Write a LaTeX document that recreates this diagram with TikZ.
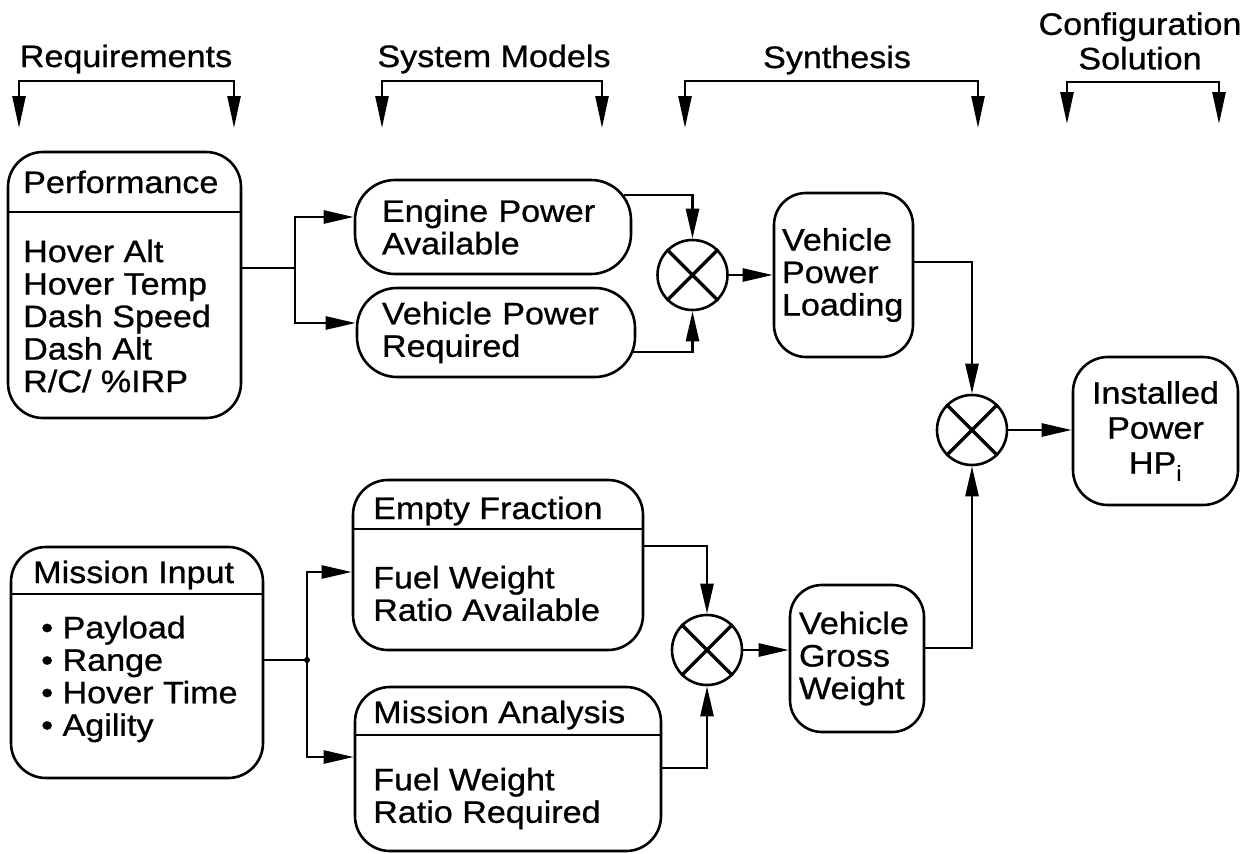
\documentclass[tikz,border=0pt]{standalone}
\usepackage{fontspec}
\setmainfont{Liberation Sans}[FakeStretch=1.1, FakeBold=0.8]
\usetikzlibrary{arrows.meta}

\begin{document}
\begin{tikzpicture}[x=1pt,y=-1pt,
  every node/.style={font=\fontsize{31}{32.5}\selectfont},
  box/.style={draw, line width=2.6pt, rounded corners=35pt, inner sep=0pt},
  txt/.style={inner sep=0pt, align=left},
  wire/.style={line width=2.6pt},
  feed/.style={line width=2.6pt, -{Triangle[length=30pt,width=13pt]}},
  pair/.style={line width=2.6pt, {Triangle[length=32pt,width=13pt]}-{Triangle[length=32pt,width=13pt]}},
  mult/.style={draw, circle, line width=2.6pt, minimum size=70pt, inner sep=0pt},
  cross/.style={line width=3.4pt}]
\useasboundingbox (0,0) rectangle (1256,854);
% column headings
\node[anchor=base] (req) at (126,67) {Requirements};
\node[anchor=base] (sysm) at (494,67) {System Models};
\node[anchor=base] (syn) at (837,68) {Synthesis};
\node[align=center, inner sep=0pt] (conf) at (1140,41) {Configuration\\[2pt]Solution};
\coordinate (reqL) at (19,128);   \coordinate (reqR) at (234,128);
\coordinate (sysmL) at (382,128); \coordinate (sysmR) at (602,128);
\coordinate (synL) at (685,128);  \coordinate (synR) at (978,128);
\coordinate (confL) at (1067,124); \coordinate (confR) at (1219,124);
\draw[pair] (reqL) -- ++(0,-47) -| (reqR);
\draw[pair] (sysmL) -- ++(0,-47) -| (sysmR);
\draw[pair] (synL) -- ++(0,-47) -| (synR);
\draw[pair] (confL) -- ++(0,-42) -| (confR);
% requirements
\node[box, minimum width=233pt, minimum height=266pt] (perf) at (124.5,285) {};
\draw[wire] ([yshift=73pt]perf.west) -- ([yshift=73pt]perf.east);
\node[txt, anchor=base west] (perfT) at (23,193) {Performance};
\node[txt, anchor=west] (perfB) at (23,316) {Hover Alt\\Hover Temp\\Dash Speed\\Dash Alt\\R/C/ \%IRP};
\node[box, minimum width=252pt, minimum height=231pt] (mis) at (137,662.5) {};
\draw[wire] ([yshift=68.5pt]mis.west) -- ([yshift=68.5pt]mis.east);
\node[txt, anchor=base west] (misT) at (33,583) {Mission Input};
\node[txt, anchor=west] (misB) at (41,679) {\textbullet\ Payload\\\textbullet\ Range\\\textbullet\ Hover Time\\\textbullet\ Agility};
% system models
\node[box, rounded corners=40pt, minimum height=94pt, text width=222pt, inner xsep=27pt, align=left] (engine) at (493,227) {Engine Power\\Available};
\node[box, rounded corners=40pt, minimum height=89pt, text width=228pt, inner xsep=25pt, align=left] (vpr) at (496,332.5) {Vehicle Power\\Required};
\node[box, minimum width=290pt, minimum height=170pt] (empty) at (498,565) {};
\draw[wire] ([yshift=36pt]empty.west) -- ([yshift=36pt]empty.east);
\node[txt, anchor=base west] (emptyT) at (373,519) {Empty Fraction};
\node[txt, anchor=west] (emptyB) at (373,593.5) {Fuel Weight\\Ratio Available};
\node[box, minimum width=306pt, minimum height=164pt] (mana) at (508,769) {};
\draw[wire] ([yshift=34pt]mana.west) -- ([yshift=34pt]mana.east);
\node[txt, anchor=base west] (manaT) at (373,723) {Mission Analysis};
\node[txt, anchor=west] (manaB) at (373,798.5) {Fuel Weight\\Ratio Required};
% synthesis
\node[mult] (m1) at (692.5,275) {};
\node[mult] (m2) at (972,430) {};
\node[mult] (m3) at (707,650) {};
\foreach \m in {m1,m2,m3}
  \draw[cross] (\m.45) -- (\m.225) (\m.135) -- (\m.315);
\node[box, rounded corners=32pt, minimum height=164pt, text width=123pt, inner xsep=8pt, align=left] (vpl) at (843.5,275) {Vehicle\\Power\\Loading};
\node[box, rounded corners=32pt, minimum height=147pt, text width=116pt, inner xsep=9pt, align=left] (vgw) at (857,658.5) {Vehicle\\Gross\\Weight};
% configuration solution
\node[box, minimum height=148pt, text width=145pt, inner xsep=10pt, align=center, font=\fontsize{31}{35}\selectfont] (inst) at (1155.5,431) {Installed\\Power\\HP\textsubscript{i}};
% connectors
\coordinate (pj) at (295,268);
\draw[wire] ([yshift=17pt]perf.east) -- (pj);
\draw[feed] (pj) |- ([yshift=10pt]engine.west);
\draw[feed] (pj) |- ([yshift=9.5pt]vpr.west);
\coordinate (mj) at (307,660);
\draw[wire] ([yshift=2.5pt]mis.east) -- (mj);
\fill (mj) circle (3pt);
\draw[feed] (mj) |- ([yshift=-7pt]empty.west);
\draw[feed] (mj) |- ([yshift=12pt]mana.west);
\draw[feed] ([xshift=-8pt,yshift=32pt]engine.east) -| (m1.north);
\draw[feed] ([xshift=-3pt,yshift=-19.5pt]vpr.east) -| (m1.south);
\draw[feed] (m1.east) -- (m1.east -| vpl.west);
\draw[feed] ([yshift=19pt]empty.east) -| (m3.north);
\draw[feed] ([yshift=1pt]mana.east) -| (m3.south);
\draw[feed] (m3.east) -- (m3.east -| vgw.west);
\draw[feed] ([yshift=13pt]vpl.east) -| (m2.north);
\draw[feed] ([yshift=10.5pt]vgw.east) -| (m2.south);
\draw[feed] (m2.east) -- (m2.east -| inst.west);
\end{tikzpicture}
\end{document}
